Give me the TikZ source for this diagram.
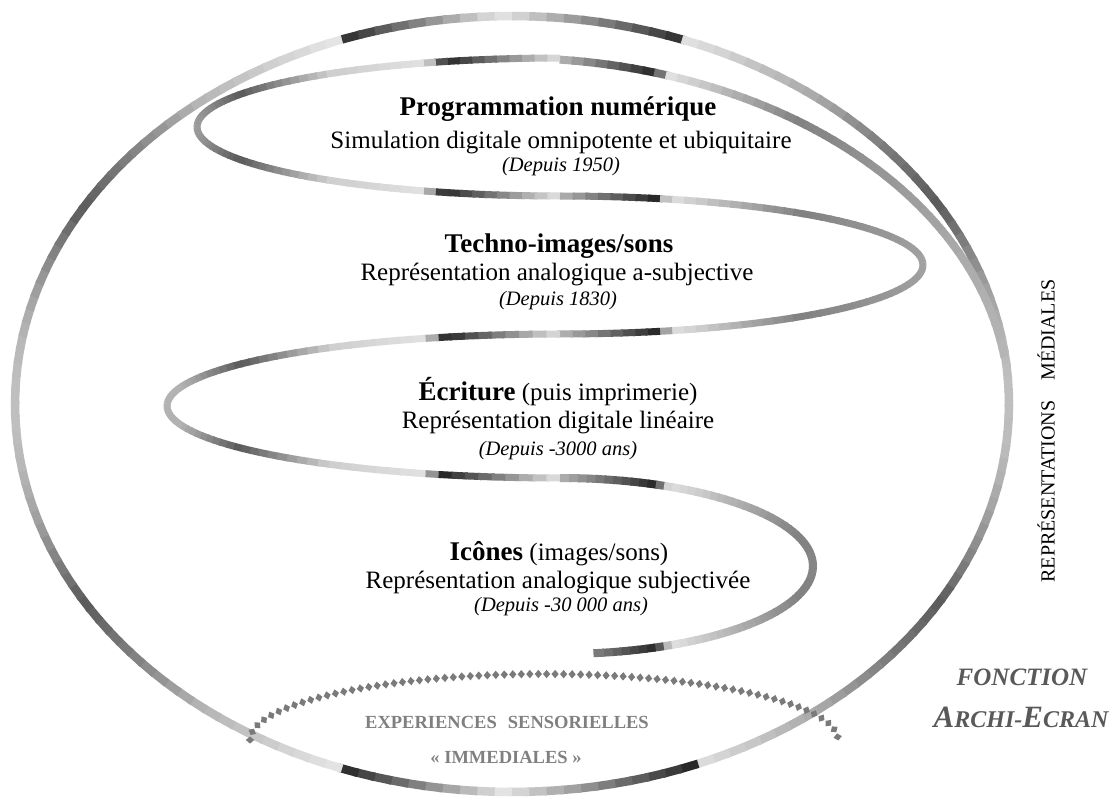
\documentclass[tikz,border=0pt]{standalone}
\usepackage{fontspec}
\setmainfont{Liberation Serif}
\usetikzlibrary{decorations.markings}

% linear interpolation of the gray level between x=#1 (level #3) and x=#2 (level #4)
\newcommand\glin[4]{\pgfmathtruncatemacro\lev{#3+(\xm-#1)/(#2-#1)*(#4-#3)}}
% gray level (percent of black) as a function of x (\xm) for the outer ring
\newcommand\outlev{%
 \ifdim\xm pt<82pt \glin{15}{82}{25}{65}\else
 \ifdim\xm pt<200pt \glin{82}{200}{65}{30}\else
 \ifdim\xm pt<340pt \glin{200}{340}{30}{10}\else
 \ifdim\xm pt<505pt \glin{340}{505}{85}{10}\else
 \ifdim\xm pt<690pt \glin{505}{690}{12}{85}\else
 \ifdim\xm pt<820pt \glin{690}{820}{12}{35}\else
 \ifdim\xm pt<940pt \glin{820}{940}{35}{65}\else
 \glin{940}{1010}{65}{25}\fi\fi\fi\fi\fi\fi\fi}
% gray level for the spiral
\newcommand\spilev{%
 \ifdim\xm pt<180pt \def\lev{30}\else
 \ifdim\xm pt<240pt \glin{180}{240}{30}{65}\else
 \ifdim\xm pt<330pt \glin{240}{330}{65}{20}\else
 \ifdim\xm pt<425pt \glin{330}{425}{20}{12}\else
 \ifdim\xm pt<445pt \glin{425}{445}{12}{85}\else
 \ifdim\xm pt<560pt \glin{445}{560}{85}{12}\else
 \ifdim\xm pt<655pt \glin{560}{655}{30}{85}\else
 \ifdim\xm pt<670pt \glin{655}{670}{85}{12}\else
 \ifdim\xm pt<800pt \glin{670}{800}{12}{50}\else
 \glin{800}{1000}{50}{30}\fi\fi\fi\fi\fi\fi\fi\fi\fi}
% shaded elliptic arc: cx, cy, rx, ry, start, end, segments, width, level macro
\newcommand\garc[9]{%
 \pgfmathsetmacro\garcS{(#6-(#5))/#7}%
 \foreach \k in {1,...,#7}{%
  \pgfmathsetmacro\garcA{#5+\garcS*(\k-1)}%
  \pgfmathsetmacro\garcB{#5+\garcS*\k+0.2*\garcS}%
  \pgfmathsetmacro\xm{#1+#3*cos((\garcA+\garcB)/2)}%
  #9%
  \draw[line width=#8, black!\lev] ({#1+#3*cos(\garcA)},{#2+#4*sin(\garcA)}) -- ({#1+#3*cos(\garcB)},{#2+#4*sin(\garcB)});
 }}

\tikzset{
 ttl/.style={font=\fontsize{27}{31}\selectfont\bfseries, inner sep=0pt, anchor=base},
 sub/.style={font=\fontsize{25}{29}\selectfont, inner sep=0pt, anchor=base},
 dat/.style={font=\fontsize{20.5}{24}\selectfont\itshape, inner sep=0pt, anchor=base},
 side/.style={font=\fontsize{20}{24}\selectfont, inner sep=0pt},
 fct/.style={font=\bfseries\itshape, text=black!65, inner sep=0pt},
 sens/.style={font=\fontsize{18.5}{22}\selectfont\bfseries, text=black!50, inner sep=0pt},
 diam/.style={postaction={decorate}, decoration={markings, mark=between positions 0 and 1 step 8.5pt with {\fill[black!52] (0,4.2)--(3.6,0)--(0,-4.2)--(-3.6,0)--cycle;}}},
}

\begin{document}
\begin{tikzpicture}[x=1pt,y=-1pt]
\fill[white] (0,0) rectangle (1118,803);
\useasboundingbox (0,0) rectangle (1118,803);

% outer ring
\garc{512}{404}{497}{388}{0}{360}{180}{8.5pt}{\outlev}
% spiral
\garc{512}{404}{497}{346}{275.5}{352}{55}{8pt}{\spilev}
\garc{560}{127}{363}{69}{270}{90}{90}{7pt}{\spilev}
\garc{560}{265}{363}{69}{270}{450}{90}{7pt}{\spilev}
\garc{560}{406}{393}{72}{270}{90}{90}{7pt}{\spilev}
\garc{560}{566}{253}{88}{270}{442}{85}{8pt}{\spilev}

% dotted sensory arc
\path[diam] (250,740) arc[start angle=180, end angle=360, x radius=294, y radius=66];

% texts
\node[ttl] (p1) at (558,115) {Programmation numérique};
\node[sub] (p2) at (561,148) {Simulation digitale omnipotente et ubiquitaire};
\node[dat] (p3) at (561,171) {(Depuis 1950)};

\node[ttl] (t1) at (559,252) {Techno-images/sons};
\node[sub] (t2) at (557,280) {Représentation analogique a-subjective};
\node[dat] (t3) at (558,305) {(Depuis 1830)};

\node[sub] (e1) at (558,400) {{\fontsize{27}{31}\selectfont\bfseries Écriture} (puis imprimerie)};
\node[sub] (e2) at (558,428) {Représentation digitale linéaire};
\node[dat] (e3) at (558,455) {(Depuis -3000 ans)};

\node[sub] (i1) at (559,560) {{\fontsize{27}{31}\selectfont\bfseries Icônes} (images/sons)};
\node[sub] (i2) at (558,588) {Représentation analogique subjectivée};
\node[dat] (i3) at (561,611) {(Depuis -30 000 ans)};

\node[side, rotate=90] (rm) at (1046,431) {REPRÉSENTATIONS\hspace{1em}MÉDIALES};

\node[fct, font=\fontsize{25}{30}\selectfont\bfseries\itshape] (f1) at (1022,677) {FONCTION};
\node[fct] (f2) at (1021,717) {\fontsize{31}{36}\selectfont A\fontsize{24}{28}\selectfont RCHI-\fontsize{31}{36}\selectfont E\fontsize{24}{28}\selectfont CRAN};

\node[sens] (s1) at (507,722) {EXPERIENCES\hspace{0.6em}SENSORIELLES};
\node[sens] (s2) at (506,757) {« IMMEDIALES »};
\end{tikzpicture}
\end{document}
